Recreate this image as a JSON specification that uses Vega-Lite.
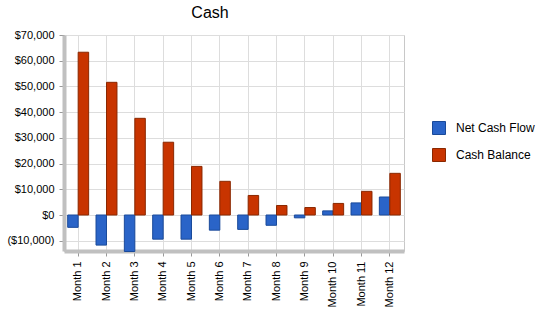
{
  "$schema": "https://vega.github.io/schema/vega-lite/v6.json",
  "autosize": {"type": "none"},
  "width": 340,
  "height": 216,
  "padding": {"left": 64, "top": 35, "right": 146, "bottom": 67},
  "background": "white",
  "title": {"text": "Cash", "fontSize": 16, "font": "Liberation Sans", "fontWeight": "normal", "color": "black", "anchor": "middle", "dx": -24, "offset": 8},
  "config": {
    "font": "Liberation Sans",
    "view": {"stroke": "#c8c8c8", "strokeWidth": 1}
  },
  "data": {"values": [
    {"month": "Month 1", "series": "Net Cash Flow", "value": -4800},
    {"month": "Month 2", "series": "Net Cash Flow", "value": -11700},
    {"month": "Month 3", "series": "Net Cash Flow", "value": -14200},
    {"month": "Month 4", "series": "Net Cash Flow", "value": -9400},
    {"month": "Month 5", "series": "Net Cash Flow", "value": -9400},
    {"month": "Month 6", "series": "Net Cash Flow", "value": -5900},
    {"month": "Month 7", "series": "Net Cash Flow", "value": -5600},
    {"month": "Month 8", "series": "Net Cash Flow", "value": -4000},
    {"month": "Month 9", "series": "Net Cash Flow", "value": -1100},
    {"month": "Month 10", "series": "Net Cash Flow", "value": 1600},
    {"month": "Month 11", "series": "Net Cash Flow", "value": 4700},
    {"month": "Month 12", "series": "Net Cash Flow", "value": 7000},
    {"month": "Month 1", "series": "Cash Balance", "value": 63300},
    {"month": "Month 2", "series": "Cash Balance", "value": 51600},
    {"month": "Month 3", "series": "Cash Balance", "value": 37600},
    {"month": "Month 4", "series": "Cash Balance", "value": 28300},
    {"month": "Month 5", "series": "Cash Balance", "value": 18900},
    {"month": "Month 6", "series": "Cash Balance", "value": 13100},
    {"month": "Month 7", "series": "Cash Balance", "value": 7600},
    {"month": "Month 8", "series": "Cash Balance", "value": 3700},
    {"month": "Month 9", "series": "Cash Balance", "value": 2900},
    {"month": "Month 10", "series": "Cash Balance", "value": 4500},
    {"month": "Month 11", "series": "Cash Balance", "value": 9200},
    {"month": "Month 12", "series": "Cash Balance", "value": 16200}
  ]},
  "mark": {"type": "bar", "strokeWidth": 1},
  "encoding": {
    "x": {
      "field": "month", "type": "nominal", "sort": null,
      "scale": {"paddingInner": 0.26, "paddingOuter": 0.13},
      "axis": {"title": null, "labelAngle": -90, "labelFontSize": 11, "labelColor": "black", "labelPadding": 5,
               "domainColor": "#c0c0c0", "domainWidth": 4, "tickColor": "#999999", "tickSize": 5,
               "grid": true, "gridColor": "#dddddd", "bandPosition": 0.5}
    },
    "xOffset": {"field": "series", "type": "nominal", "sort": ["Net Cash Flow", "Cash Balance"], "scale": {"paddingInner": 0, "paddingOuter": 0}},
    "y": {
      "field": "value", "type": "quantitative",
      "scale": {"domain": [-14000, 70000], "nice": false, "zero": false},
      "axis": {"title": null, "values": [-10000, 0, 10000, 20000, 30000, 40000, 50000, 60000, 70000],
               "format": "($,.0f", "labelFontSize": 11, "labelColor": "black", "labelPadding": 5,
               "domainColor": "#c0c0c0", "domainWidth": 4, "tickColor": "#999999", "tickSize": 5,
               "grid": true, "gridColor": "#dddddd"}
    },
    "color": {
      "field": "series", "type": "nominal",
      "scale": {"domain": ["Net Cash Flow", "Cash Balance"], "range": ["#2a64c8", "#c83400"]},
      "legend": {"title": null, "orient": "none", "legendX": 368, "legendY": 86, "symbolType": "square", "symbolSize": 169,
                 "symbolStrokeWidth": 1, "labelFontSize": 12, "labelColor": "black", "rowPadding": 9, "labelOffset": 10}
    },
    "stroke": {
      "field": "series", "type": "nominal",
      "scale": {"domain": ["Net Cash Flow", "Cash Balance"], "range": ["#1a4a9a", "#8a2800"]},
      "legend": null
    }
  }
}
